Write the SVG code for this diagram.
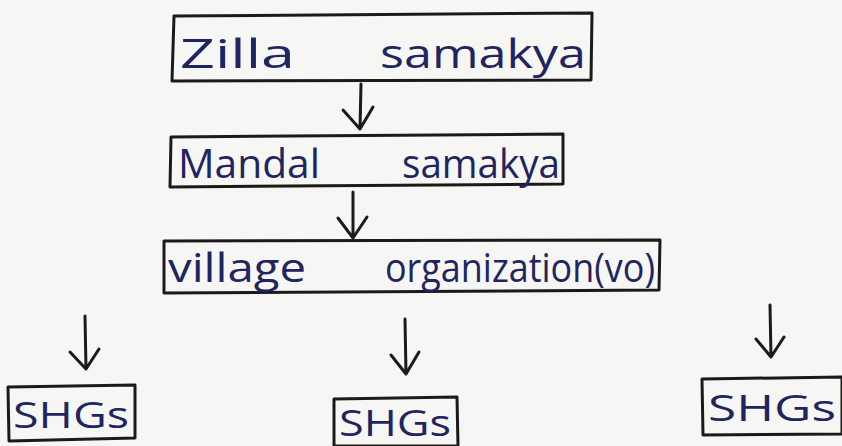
<svg xmlns="http://www.w3.org/2000/svg" width="842" height="446" viewBox="0 0 842 446">
  <style>
    .box { fill: none; stroke: #1a1a1a; stroke-width: 3; stroke-linejoin: round; }
    .lbl { font-family: "Open Sans", "Liberation Sans", sans-serif; fill: #1f2560; font-size: 40px; }
    .small { font-size: 36px; }
    .arr { fill: none; stroke: #1a1a1a; stroke-width: 3; stroke-linecap: round; stroke-linejoin: round; }
  </style>
  <rect width="842" height="446" fill="#f6f6f4"/>

  <g id="zilla-samakya">
    <path class="box" d="M174 16 L592 13 L591 80 L172 81 Z"/>
    <text class="lbl" x="180" y="68" textLength="115" lengthAdjust="spacingAndGlyphs">Zilla</text>
    <text class="lbl" x="380" y="68" textLength="206" lengthAdjust="spacingAndGlyphs">samakya</text>
  </g>

  <g id="mandal-samakya">
    <path class="box" d="M171 137 L563 134 L563 184 L170 187 Z"/>
    <text class="lbl" x="178" y="178" textLength="142" lengthAdjust="spacingAndGlyphs">Mandal</text>
    <text class="lbl" x="402" y="178" textLength="158" lengthAdjust="spacingAndGlyphs">samakya</text>
  </g>

  <g id="village-organization">
    <path class="box" d="M164 241 L660 240 L659 290 L164 293 Z"/>
    <text class="lbl" x="168" y="282" textLength="138" lengthAdjust="spacingAndGlyphs">village</text>
    <text class="lbl" x="385" y="282" textLength="270" lengthAdjust="spacingAndGlyphs">organization(vo)</text>
  </g>

  <g id="shgs-left">
    <path class="box" d="M8 387 L135 385 L135 438 L9 441 Z"/>
    <text class="lbl small" x="13" y="428" textLength="116" lengthAdjust="spacingAndGlyphs">SHGs</text>
  </g>

  <g id="shgs-center">
    <path class="box" d="M334 399 L457 397 L458 446 L334 446 Z"/>
    <text class="lbl small" x="339" y="436" textLength="112" lengthAdjust="spacingAndGlyphs">SHGs</text>
  </g>

  <g id="shgs-right">
    <path class="box" d="M702 379 L842 377 L842 434 L703 435 Z"/>
    <text class="lbl small" x="708" y="421" textLength="128" lengthAdjust="spacingAndGlyphs">SHGs</text>
  </g>

  <g id="connectors">
    <path class="arr" d="M361 84 L360 129 M343 110 L360 129 L373 107"/>
    <path class="arr" d="M353 192 L353 238 M338 218 L353 238 L367 217"/>
    <path class="arr" d="M85 316 L86 369 M70 352 L86 369 L99 349"/>
    <path class="arr" d="M405 319 L406 374 M391 355 L406 374 L419 352"/>
    <path class="arr" d="M770 305 L771 357 M756 339 L771 357 L784 337"/>
  </g>
</svg>
